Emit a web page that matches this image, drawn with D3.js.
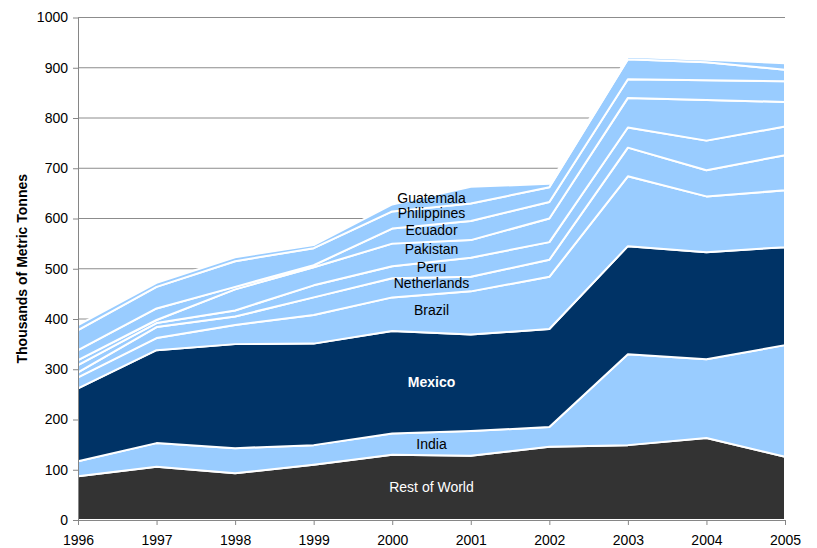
<!DOCTYPE html>
<html>
<head>
<meta charset="utf-8">
<script src="https://cdn.jsdelivr.net/npm/d3@7"></script>
<style>
  body { margin: 0; background: #fff; }
  svg { font-family: "Liberation Sans", Arial, sans-serif; }
</style>
</head>
<body>
<script>
// years and producers (bottom layer first)
var years = [1996, 1997, 1998, 1999, 2000, 2001, 2002, 2003, 2004, 2005];
var producers = ["Rest of World", "India", "Mexico", "Brazil", "Netherlands", "Peru", "Pakistan", "Ecuador", "Philippines", "Guatemala"];

// thousands of metric tonnes
var restOfWorld = [87, 106, 93, 110, 130, 128, 146, 149, 163, 126];
var india       = [30, 47, 50, 39, 42, 49, 39, 181, 157, 222];
var mexico      = [145, 185, 207, 202, 204, 192, 195, 215, 213, 195];
var brazil      = [22, 24, 38, 57, 67, 86, 104, 139, 111, 113];
var netherlands = [10, 22, 17, 35, 38, 29, 34, 57, 52, 70];
var peru        = [14, 8, 12, 24, 24, 38, 35, 40, 59, 57];
var pakistan    = [10, 6, 42, 36, 45, 35, 47, 59, 81, 49];
var ecuador     = [20, 23, 5, 4, 30, 38, 33, 37, 39, 41];
var philippines = [40, 43, 51, 34, 34, 35, 29, 40, 36, 23];
var guatemala   = [10, 8, 8, 6, 14, 33, 7, 5, 5, 13];

var yTicks = [0, 100, 200, 300, 400, 500, 600, 700, 800, 900, 1000];

var series = [restOfWorld, india, mexico, brazil, netherlands, peru, pakistan, ecuador, philippines, guatemala];
var colores = ["#333333", "#99ccff", "#003366", "#99ccff", "#99ccff", "#99ccff", "#99ccff", "#99ccff", "#99ccff", "#99ccff"];

var width = 817, height = 548;
var margin = {top: 17.5, right: 32, bottom: 28, left: 78};

var svg = d3.select("body").append("svg")
    .attr("width", width)
    .attr("height", height);

var x = d3.scaleLinear().domain([1996, 2005]).range([margin.left, width - margin.right]);
var y = d3.scaleLinear().domain([0, 1000]).range([height - margin.bottom, margin.top]);

// tabla para d3.stack
var tabla = years.map(function(yr, i) {
    var row = {year: yr};
    producers.forEach(function(p, k) { row[p] = series[k][i]; });
    return row;
});

var stacked = d3.stack().keys(producers)(tabla);

// gridlines
svg.append("g")
    .selectAll("line")
    .data(yTicks.filter(function(d) { return d > 0; }))
    .enter().append("line")
    .attr("x1", x(1996))
    .attr("x2", x(2005))
    .attr("y1", function(d) { return y(d); })
    .attr("y2", function(d) { return y(d); })
    .attr("stroke", "#8c8c8c")
    .attr("stroke-width", 1);

var area = d3.area()
    .x(function(d) { return x(d.data.year); })
    .y0(function(d) { return y(d[0]); })
    .y1(function(d) { return y(d[1]); });

svg.append("g")
    .selectAll("path")
    .data(stacked)
    .enter().append("path")
    .attr("d", area)
    .attr("fill", function(d, i) { return colores[i]; })
    .attr("stroke", "#ffffff")
    .attr("stroke-width", 2)
    .attr("stroke-linejoin", "round");

// axes
var yAxis = svg.append("g")
    .attr("transform", "translate(" + x(1996) + ",0)")
    .call(d3.axisLeft(y).tickValues(yTicks).tickFormat(d3.format("d")).tickSize(5).tickPadding(5).tickSizeOuter(0));

var xAxis = svg.append("g")
    .attr("transform", "translate(0," + y(0) + ")")
    .call(d3.axisBottom(x).tickValues(years).tickFormat(d3.format("d")).tickSize(5).tickPadding(10).tickSizeOuter(0));

[yAxis, xAxis].forEach(function(ax) {
    ax.select(".domain").attr("stroke", "#868686");
    ax.selectAll(".tick line").attr("stroke", "#868686");
    ax.selectAll(".tick text")
        .attr("fill", "#000")
        .style("font-size", "14px")
        .style("font-family", "'Liberation Sans', Arial, sans-serif");
});

// y axis title
svg.append("text")
    .attr("transform", "translate(22," + y(500) + ") rotate(-90)")
    .attr("text-anchor", "middle")
    .attr("dy", "0.35em")
    .style("font-size", "14px")
    .style("font-weight", "bold")
    .text("Thousands of Metric Tonnes");

// etiquetas: centro de cada banda entre 2000 y 2001
var labelYear = 2000.5;
stacked.forEach(function(layer, k) {
    var a = layer[years.indexOf(2000)], b = layer[years.indexOf(2001)];
    var mid = ((a[0] + a[1]) / 2 + (b[0] + b[1]) / 2) / 2;
    var dark = (k === 0 || k === 2);
    svg.append("text")
        .attr("x", x(labelYear))
        .attr("y", y(mid) - (k >= 3 ? 3 : 0))
        .attr("dy", "0.35em")
        .attr("text-anchor", "middle")
        .attr("fill", dark ? "#ffffff" : "#000000")
        .style("font-size", "14px")
        .style("font-weight", k === 2 ? "bold" : "normal")
        .text(producers[k]);
});
</script>
</body>
</html>
